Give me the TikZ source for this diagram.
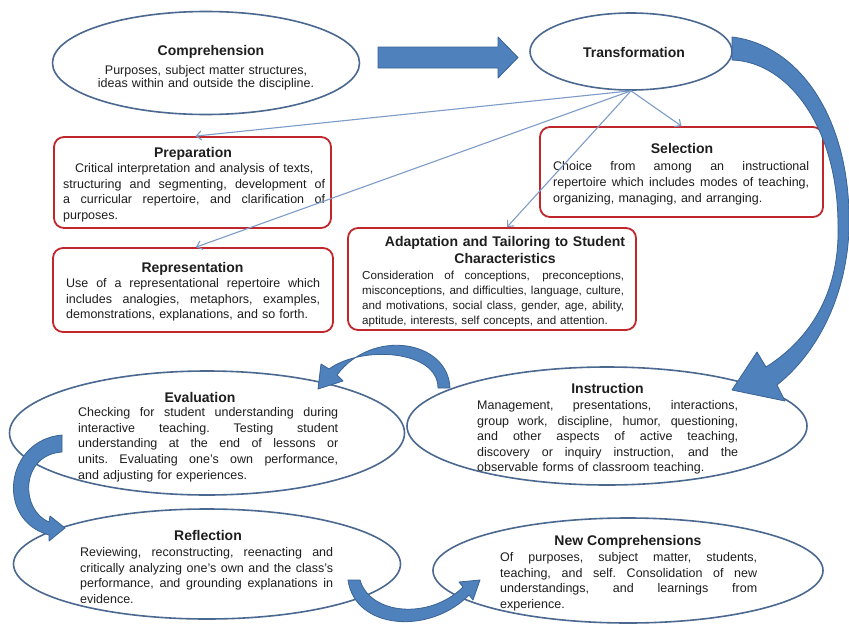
\documentclass[tikz,border=0pt]{standalone}
\usepackage{fontspec}
\setmainfont{Liberation Sans}
\usetikzlibrary{arrows.meta,calc,shapes.geometric}

\definecolor{ovalline}{HTML}{4A6890}
\definecolor{boxline}{HTML}{C0262C}
\definecolor{arrowfill}{HTML}{4F81BD}
\definecolor{arrowedge}{HTML}{3A6494}
\definecolor{linkline}{HTML}{7D9CC9}
\definecolor{txt}{HTML}{1E1E1E}

% one justified line of a text block (stretched to the block width)
\newcommand\jl[1]{\noindent\hbox to \hsize{\spaceskip=0.278em plus 1fil\relax #1}}

\tikzset{
  oval/.style={ellipse, draw=ovalline, line width=1.6pt, inner sep=0pt},
  stage/.style={rounded corners=10pt, draw=boxline, line width=1.8pt, inner sep=0pt},
  title/.style={font=\fontsize{14}{17}\selectfont\bfseries, text=txt, inner sep=0pt, anchor=base},
  body/.style={font=\fontsize{12.5}{15.5}\selectfont\frenchspacing, text=txt, inner sep=0pt, align=left, anchor=base west},
  link/.style={draw=linkline, line width=1.1pt, -{Straight Barb[length=5pt,width=9pt]}},
  blockarrow/.style={fill=arrowfill, draw=arrowedge, line width=0.8pt, line join=round}
}

\begin{document}
\begin{tikzpicture}[x=1pt, y=-1pt]
\fill[white] (0,0) rectangle (849,624);
\useasboundingbox (0,0) rectangle (849,624);

% ---- outlines of the stages ----
\node[oval, minimum width=307pt, minimum height=103pt] (comp) at (206,63) {};
\node[oval, minimum width=202pt, minimum height=77pt] (trans) at (631,51.5) {};
\node[oval, minimum width=395pt, minimum height=124pt] (eval) at (207,433) {};
\node[oval, minimum width=400pt, minimum height=118pt] (instr) at (607,426) {};
\node[oval, minimum width=387pt, minimum height=110pt] (refl) at (207,564) {};
\node[oval, minimum width=390pt, minimum height=105pt] (newc) at (628,570.5) {};

\node[stage, minimum width=277pt, minimum height=91pt] (prep) at (192.5,182.5) {};
\node[stage, minimum width=280pt, minimum height=84pt] (repr) at (193,290) {};
\node[stage, minimum width=283pt, minimum height=90pt] (sel) at (681.5,172) {};
\node[stage, minimum width=288pt, minimum height=102pt] (adap) at (492,279) {};

% ---- texts ----
\node[title] (comptitle) at (211,55) {Comprehension};
\node[body, anchor=base, align=center, text width=250pt, font=\fontsize{12.5}{13}\selectfont] (compbody) at (206,74.5)
  {Purposes, subject matter structures,\\ ideas within and outside the discipline.};

\node[title] (transtitle) at (634,57) {Transformation};

\node[title] (preptitle) at (193,157) {Preparation};
\node[body, text width=262pt] (prepbody) at (63,172.5)
  {\noindent\hbox to \hsize{\hfil Critical interpretation and analysis of texts,\hfil}\\
   \jl{structuring and segmenting, development of}\\
   \jl{a curricular repertoire, and clarification of}\\
   purposes.};

\node[title] (reprtitle) at (192.5,272) {Representation};
\node[body, text width=254pt] (reprbody) at (66,287.5)
  {\jl{Use of a representational repertoire which}\\
   \jl{includes analogies, metaphors, examples,}\\
   demonstrations, explanations, and so forth.};

\node[title] (seltitle) at (682,153) {Selection};
\node[body, text width=256pt, font=\fontsize{12.5}{16}\selectfont] (selbody) at (553,170.5)
  {\jl{Choice from among an instructional}\\
   \jl{repertoire which includes modes of teaching,}\\
   organizing, managing, and arranging.};

\node[title, text width=300pt, align=center] (adaptitle) at (505,246)
  {Adaptation and Tailoring to Student\\ Characteristics};
\node[body, text width=262pt, font=\fontsize{11.6}{15}\selectfont] (adapbody) at (362,279.5)
  {\jl{Consideration of conceptions, preconceptions,}\\
   \jl{misconceptions, and difficulties, language, culture,}\\
   \jl{and motivations, social class, gender, age, ability,}\\
   aptitude, interests, self concepts, and attention.};

\node[title] (evaltitle) at (200,402) {Evaluation};
\node[body, text width=260pt, font=\fontsize{12.5}{15.7}\selectfont\frenchspacing] (evalbody) at (78,416.5)
  {\jl{Checking for student understanding during}\\
   \jl{interactive teaching. Testing student}\\
   \jl{understanding at the end of lessons or}\\
   \jl{units. Evaluating one's own performance,}\\
   and adjusting for experiences.};

\node[title] (instrtitle) at (607.5,393) {Instruction};
\node[body, text width=261pt, font=\fontsize{12.5}{15.6}\selectfont] (instrbody) at (477,409.5)
  {\jl{Management, presentations, interactions,}\\
   \jl{group work, discipline, humor, questioning,}\\
   \jl{and other aspects of active teaching,}\\
   \jl{discovery or inquiry instruction, and the}\\
   observable forms of classroom teaching.};

\node[title] (refltitle) at (208,540) {Reflection};
\node[body, text width=253pt] (reflbody) at (80,556.5)
  {\jl{Reviewing, reconstructing, reenacting and}\\
   \jl{critically analyzing one's own and the class's}\\
   \jl{performance, and grounding explanations in}\\
   evidence.};

\node[title] (newctitle) at (628,545) {New Comprehensions};
\node[body, text width=257pt, font=\fontsize{12.5}{15.7}\selectfont\frenchspacing] (newcbody) at (500,561.5)
  {\jl{Of purposes, subject matter, students,}\\
   \jl{teaching, and self. Consolidation of new}\\
   \jl{understandings, and learnings from}\\
   experience.};

% ---- thin links from Transformation ----
\draw[link] (trans.south) -- ($(prep.north)+(3,0)$);
\draw[link] (trans.south) -- ($(repr.north)+(3,0)$);
\draw[link] (trans.south) -- ($(adap.north)+(15,0)$);
\draw[link] (trans.south) -- (sel.north);

% ---- block arrows ----
% Comprehension -> Transformation
\path[blockarrow] (378,47) -- (498,47) -- (498,37) -- (518,57.5) -- (498,78) -- (498,68) -- (378,68) -- cycle;
% Transformation -> Instruction
\path[blockarrow] (732,37) .. controls (800,45) and (852,120) .. (849,230)
  .. controls (846,300) and (815,355) .. (777,385) -- (785,401) -- (732,390) -- (757,352) -- (766,367)
  .. controls (812,338) and (840,290) .. (838,225)
  .. controls (838,130) and (790,62) .. (732,60) -- cycle;
% Instruction -> Evaluation
\path[blockarrow] (450,388) .. controls (448,340) and (372,328) .. (337,375)
  -- (343,381) -- (318,389) -- (321,364) -- (329,369)
  .. controls (362,345) and (438,350) .. (438,388) -- cycle;
% Evaluation -> Reflection
\path[blockarrow] (62,435) .. controls (5,440) and (-5,520) .. (49,535)
  -- (49,541) -- (65,528) -- (50,516) -- (49,522)
  .. controls (20,510) and (20,455) .. (62,452) -- cycle;
% Reflection -> New Comprehensions
\path[blockarrow] (348,580) .. controls (355,630) and (430,635) .. (469,595)
  -- (473,600) -- (480,580) -- (459,582) -- (463,587)
  .. controls (430,620) and (370,615) .. (360,580) -- cycle;
\end{tikzpicture}
\end{document}
